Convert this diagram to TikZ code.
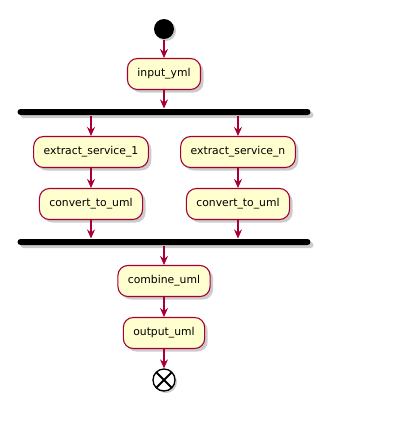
\documentclass[tikz,border=0pt]{standalone}
\usepackage{fontspec}
\setmainfont{DejaVu Sans}
\usetikzlibrary{arrows.meta,shadows}
\definecolor{umlred}{HTML}{A80036}
\definecolor{umlfill}{HTML}{FEFECE}
\begin{document}
\begin{tikzpicture}[x=1pt, y=-1pt, font=\fontsize{10.8}{12}\selectfont, color=umlred, line width=1.1pt, -{Stealth[length=9pt,width=8pt,inset=3pt]},
  activity/.style={draw=umlred, fill=umlfill, text=black, rounded corners=10pt, minimum height=31pt, inner xsep=10pt, drop shadow={shadow xshift=3pt, shadow yshift=-3pt, fill=black!40}},
  forkbar/.style={fill=black, rounded corners=3pt, minimum width=293pt, minimum height=6pt, inner sep=0pt, drop shadow={shadow xshift=3pt, shadow yshift=-3pt, fill=black!40}}]
	\useasboundingbox (0,0) rectangle (400,432);
	\node (start) [fill=black, circle, minimum size=20pt, inner sep=0pt, drop shadow={shadow xshift=2pt, shadow yshift=-2pt, fill=black!40}] at (164,29) {};
	\node (input) [activity] at (164,74) {input\_yml};
	\node (fork) [forkbar] at (164,112) {};
	\node (extractA) [activity] at (91,152) {extract\_service\_1};
	\node (extractN) [activity] at (238,152) {extract\_service\_n};
	\node (convertA) [activity] at (91,204) {convert\_to\_uml};
	\node (convertN) [activity] at (238,204) {convert\_to\_uml};
	\node (join) [forkbar] at (164,242) {};
	\node (combine) [activity] at (164,281) {combine\_uml};
	\node (output) [activity] at (164,333) {output\_uml};
	\node (stop) [draw=black, fill=white, circle, line width=1.3pt, minimum size=22pt, inner sep=0pt, drop shadow={shadow xshift=2pt, shadow yshift=-2pt, fill=black!40},
	  path picture={\draw[-, black, line width=2pt] (path picture bounding box.north west) -- (path picture bounding box.south east)
	    (path picture bounding box.south west) -- (path picture bounding box.north east);}] at (164,380) {};
	\draw (start) -- (input);
	\draw (input) -- (fork.north);
	\draw (fork.south -| extractA) -- (extractA);
	\draw (fork.south -| extractN) -- (extractN);
	\draw (extractA) -- (convertA);
	\draw (extractN) -- (convertN);
	\draw (convertA) -- (convertA |- join.north);
	\draw (convertN) -- (convertN |- join.north);
	\draw (join) -- (combine);
	\draw (combine) -- (output);
	\draw (output) -- (stop);
\end{tikzpicture}
\end{document}
